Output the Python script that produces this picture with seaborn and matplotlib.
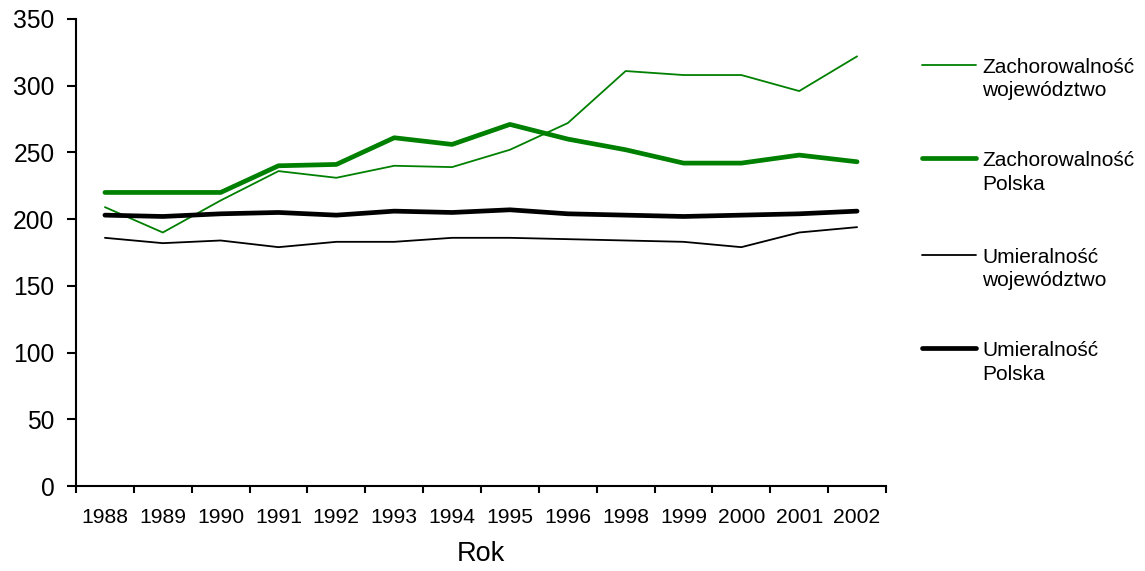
import numpy as np
import pandas as pd
import seaborn as sns
import matplotlib.pyplot as plt
from matplotlib.lines import Line2D
from matplotlib.ticker import FixedLocator

# data
years = ['1988', '1989', '1990', '1991', '1992', '1993', '1994', '1995',
         '1996', '1998', '1999', '2000', '2001', '2002']
zach_woj = [209, 190, 214, 236, 231, 240, 239, 252, 272, 311, 308, 308, 296, 322]
zach_pl = [220, 220, 220, 240, 241, 261, 256, 271, 260, 252, 242, 242, 248, 243]
umie_woj = [186, 182, 184, 179, 183, 183, 186, 186, 185, 184, 183, 179, 190, 194]
umie_pl = [203, 202, 204, 205, 203, 206, 205, 207, 204, 203, 202, 203, 204, 206]

labels = ['Zachorowalność\nwojewództwo', 'Zachorowalność\nPolska',
          'Umieralność\nwojewództwo', 'Umieralność\nPolska']
colors = ['#008000', '#008000', 'black', 'black']
widths = [1.3, 3.4, 1.3, 3.4]

df = pd.DataFrame({'pos': np.arange(len(years))})
df[labels[0]] = zach_woj
df[labels[1]] = zach_pl
df[labels[2]] = umie_woj
df[labels[3]] = umie_pl
long = df.melt(id_vars='pos', var_name='seria', value_name='val')

sns.set_style('white')
plt.rcParams['font.family'] = ['Liberation Sans', 'DejaVu Sans']
plt.rcParams['text.color'] = 'black'
plt.rcParams['xtick.color'] = 'black'
plt.rcParams['ytick.color'] = 'black'
plt.rcParams['axes.labelcolor'] = 'black'

fig = plt.figure(figsize=(11.45, 5.71), dpi=100)
ax = fig.add_axes([76/1145, 1-486/571, (886-76)/1145, (486-19)/571])

for lab, c, w in zip(labels, colors, widths):
    sub = long[long['seria'] == lab]
    sns.lineplot(data=sub, x='pos', y='val', color=c, lw=w, ax=ax,
                 legend=False, solid_joinstyle='round')

ax.set_xlim(-0.5, len(years) - 0.5)
ax.set_ylim(0, 350)
ax.set_yticks(range(0, 351, 50))
ax.set_xticks(np.arange(len(years)))
ax.set_xticklabels(years)
ax.xaxis.set_minor_locator(FixedLocator(np.arange(-0.5, len(years), 1)))
ax.tick_params(axis='x', which='major', length=0, pad=16, labelsize=15.2)
ax.tick_params(axis='x', which='minor', length=5, width=1.5, direction='out',
               bottom=True)
ax.tick_params(axis='y', length=6.5, width=1.5, direction='out', left=True,
               pad=9, labelsize=17.7)
for s in ['top', 'right']:
    ax.spines[s].set_visible(False)
for s in ['left', 'bottom']:
    ax.spines[s].set_linewidth(1.5)
    ax.spines[s].set_color('black')
ax.set_xlabel('Rok', fontsize=19.5, labelpad=10)
ax.set_ylabel('')

# legend drawn at the right, line beside the first text row
ys = [65, 158, 255, 348]
for lab, c, w, y in zip(labels, colors, widths, ys):
    fig.add_artist(Line2D([922/1145, 976/1145], [1-y/571, 1-y/571],
                          color=c, lw=w, solid_capstyle='round'))
    fig.text(982/1145, 1-(y-7)/571, lab, fontsize=15, va='top', ha='left',
             linespacing=1.3)

fig.savefig('out.png', dpi=100)
